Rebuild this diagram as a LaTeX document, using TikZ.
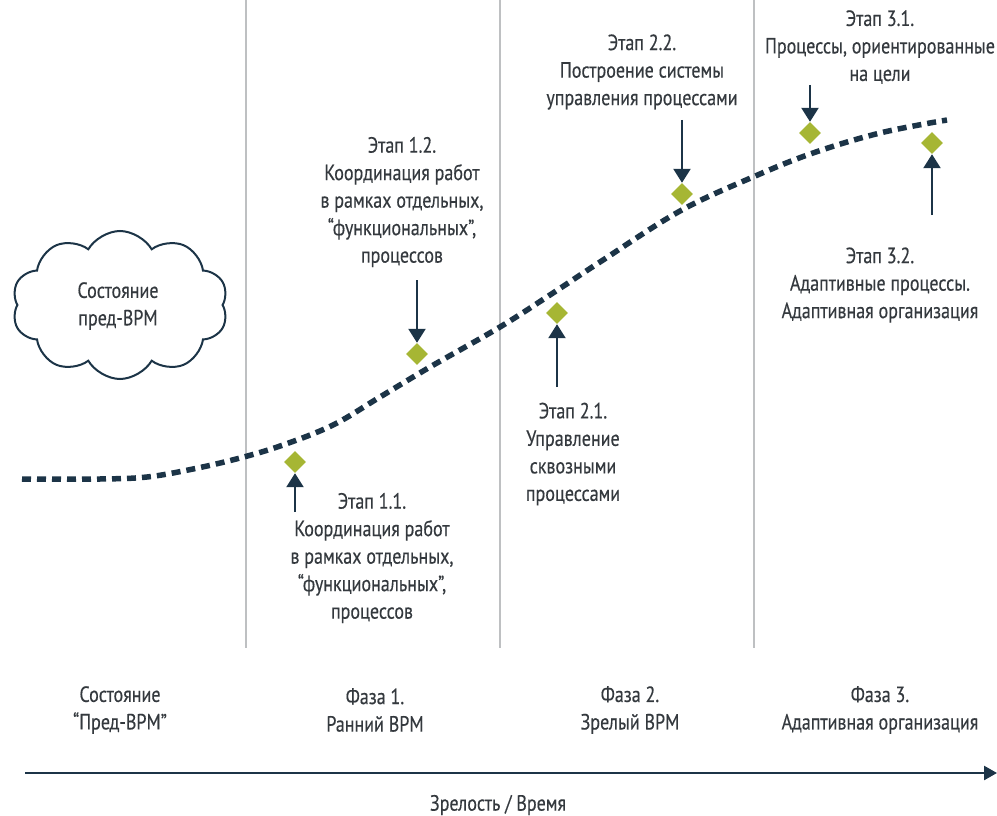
\documentclass[tikz,border=0pt]{standalone}
\usepackage{fontspec}
\setmainfont[FakeStretch=0.82, FakeBold=0.35]{PT Sans}
\usetikzlibrary{shapes.geometric,shapes.symbols,arrows.meta}
\definecolor{navy}{RGB}{28,52,71}
\definecolor{olive}{RGB}{166,182,52}
\definecolor{txt}{RGB}{52,57,62}
\definecolor{sep}{RGB}{190,192,194}

\begin{document}
\begin{tikzpicture}[x=1pt, y=-1pt,
    lbl/.style={align=center, text=txt, inner sep=0pt,
      font=\fontsize{22}{27.5}\selectfont},
    sepline/.style={draw=sep, line width=1.6pt},
    sigma/.style={draw=navy, line width=5.5pt, dash pattern=on 9pt off 6pt},
    stage/.style={diamond, fill=olive, minimum width=22pt, minimum height=22pt, inner sep=0pt},
    ptr/.style={draw=navy, line width=2.3pt, -{Triangle[width=17pt,length=14pt]}},
    axis/.style={draw=navy, line width=2.5pt, -{Triangle[width=14pt,length=13pt]}}]
  \useasboundingbox (0,0) rectangle (997,816);

  % --- phase borders ---
  \foreach \xb in {246,500,754}
    \draw[sepline] (\xb,0) -- (\xb,648);

  % --- maturity curve ---
  \draw[sigma] plot[smooth, tension=0.6] coordinates {
    (22,479) (100,479) (147,477) (193,469) (240,458) (283,445) (333,425)
    (380,397) (430,367) (500,327) (553,293) (600,262) (680,211) (753,177)
    (813,153) (880,133) (947,120)};

  % --- pre-BPM cloud ---
  \node[cloud, draw=navy, line width=2pt, cloud puffs=10, cloud puff arc=120,
        minimum width=216pt, minimum height=148pt, inner sep=0pt] (cloud) at (120,305) {};
  \node[lbl] (cloudtxt) at (118,306) {Состояние\\пред-ВРМ};

  % --- stages ---
  \node[stage] (d11) at (295,462) {};
  \node[stage] (d12) at (417,354) {};
  \node[stage] (d21) at (557,313) {};
  \node[stage] (d22) at (682,194) {};
  \node[stage] (d31) at (810,133) {};
  \node[stage] (d32) at (932,143) {};

  \coordinate (s11) at (295,512);
  \coordinate (s12) at (417,280);
  \coordinate (s21) at (557,387);
  \coordinate (s22) at (682,120);
  \coordinate (s31) at (810,85);
  \coordinate (s32) at (932,215);
  \draw[ptr] (s11) -- (d11.south);
  \draw[ptr] (s12) -- (d12.north);
  \draw[ptr] (s21) -- (d21.south);
  \draw[ptr] (s22) -- (d22.north);
  \draw[ptr] (s31) -- (d31.north);
  \draw[ptr] (s32) -- (d32.south);

  \node[lbl] (l11) at (372,558) {Этап 1.1.\\Координация работ\\в рамках отдельных,\\“функциональных”,\\процессов};
  \node[lbl] (l12) at (402,202) {Этап 1.2.\\Координация работ\\в рамках отдельных,\\“функциональных”,\\процессов};
  \node[lbl] (l21) at (573,454) {Этап 2.1.\\Управление\\сквозными\\процессами};
  \node[lbl] (l22) at (642,72) {Этап 2.2.\\Построение системы\\управления процессами};
  \node[lbl] (l31) at (880,47) {Этап 3.1.\\Процессы, ориентированные\\на цели};
  \node[lbl] (l32) at (880,285) {Этап 3.2.\\Адаптивные процессы.\\Адаптивная организация};

  % --- phases ---
  \node[lbl] (p0) at (120,710) {Состояние\\“Пред-ВРМ”};
  \node[lbl] (p1) at (375,710) {Фаза 1.\\Ранний BPM};
  \node[lbl] (p2) at (630,710) {Фаза 2.\\Зрелый BPM};
  \node[lbl] (p3) at (880,710) {Фаза 3.\\Адаптивная организация};

  % --- time axis ---
  \coordinate (ax0) at (25,773);
  \coordinate (ax1) at (997,773);
  \draw[axis] (ax0) -- (ax1);
  \node[lbl] (axlbl) at (498,805) {Зрелость / Время};
\end{tikzpicture}
\end{document}
